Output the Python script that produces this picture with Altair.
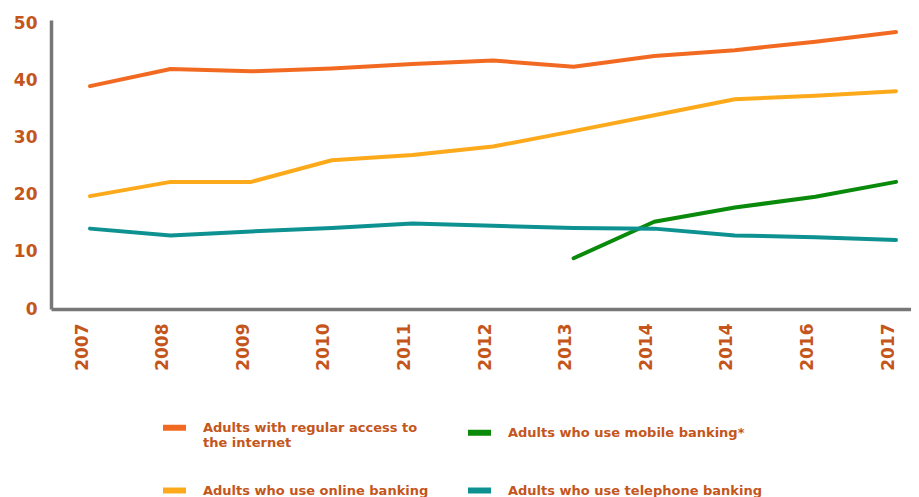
import altair as alt
import pandas as pd

year_labels = ["2007", "2008", "2009", "2010", "2011", "2012", "2013", "2014", "2014", "2016", "2017"]

series_names = [
    "Adults with regular access to the internet",
    "Adults who use mobile banking*",
    "Adults who use online banking",
    "Adults who use telephone banking",
]
series_colors = ["#f26a21", "#0a8a0a", "#fcaa1c", "#0e9191"]

internet = [39.1, 42.1, 41.7, 42.2, 43.0, 43.6, 42.5, 44.4, 45.4, 46.9, 48.6]
online = [19.8, 22.3, 22.3, 26.1, 27.0, 28.5, 31.2, 34.0, 36.8, 37.4, 38.2]
telephone = [14.1, 12.9, 13.6, 14.2, 15.0, 14.6, 14.2, 14.1, 12.9, 12.6, 12.1]
mobile = [None, None, None, None, None, None, 8.9, 15.3, 17.8, 19.7, 22.3]

rows = []
for name, vals in zip(series_names, [internet, mobile, online, telephone]):
    for i, v in enumerate(vals):
        if v is not None:
            rows.append({"series": name, "idx": i, "value": v})
df = pd.DataFrame(rows)

text_color = "#c4561c"
axis_color = "#777777"
font = "DejaVu Sans"

labels_js = "[" + ",".join("'%s'" % y for y in year_labels) + "]"

chart = alt.Chart(df).mark_line(strokeWidth=4, strokeCap="round", strokeJoin="round").encode(
    x=alt.X(
        "idx:Q",
        scale=alt.Scale(domain=[-0.484, 10.186], nice=False, zero=False),
        axis=alt.Axis(
            values=list(range(len(year_labels))),
            labelExpr=labels_js + "[datum.value]",
            labelAngle=270,
            labelFont=font,
            labelFontWeight="bold",
            labelFontSize=17,
            labelColor=text_color,
            labelPadding=14,
            labelOffset=-8,
            ticks=False,
            grid=False,
            domainColor=axis_color,
            domainWidth=3.5,
            title=None,
        ),
    ),
    y=alt.Y(
        "value:Q",
        scale=alt.Scale(domain=[0, 50.7], nice=False),
        axis=alt.Axis(
            values=[0, 10, 20, 30, 40, 50],
            labelFont=font,
            labelFontWeight="bold",
            labelFontSize=17,
            labelColor=text_color,
            labelPadding=14,
            ticks=False,
            grid=False,
            domainColor=axis_color,
            domainWidth=3.5,
            title=None,
        ),
    ),
    color=alt.Color(
        "series:N",
        scale=alt.Scale(domain=series_names, range=series_colors),
        legend=alt.Legend(
            orient="none",
            legendX=109,
            legendY=393,
            columns=2,
            title=None,
            direction="horizontal",
            symbolType="stroke",
            symbolSize=529,
            symbolStrokeWidth=6,
            symbolOpacity=1,
            labelFont=font,
            labelFontWeight="bold",
            labelFontSize=13,
            labelColor=text_color,
            labelOffset=14,
            labelLimit=400,
            columnPadding=27,
            rowPadding=26,
            labelExpr="datum.label == 'Adults with regular access to the internet' ? ['Adults with regular access to', 'the internet'] : datum.label",
        ),
    ),
    order="idx:Q",
).properties(
    width=860,
    height=289,
    autosize=alt.AutoSizeParams(type="none"),
    padding={"left": 43, "top": 12, "right": 0, "bottom": 188},
).configure_view(stroke=None)

chart.save("out.html", embed_options={"renderer": "svg", "actions": False})
